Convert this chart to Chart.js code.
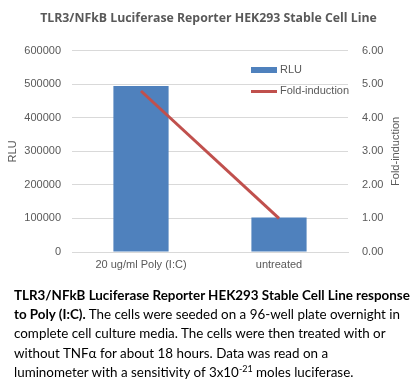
<!DOCTYPE html>
<html><head><meta charset="utf-8">
<script src="https://cdn.jsdelivr.net/npm/chart.js@4/dist/chart.umd.min.js"></script>
<style>
html,body{margin:0;padding:0;background:#fff;}
#wrap{position:relative;width:417px;height:290px;}
#cap{position:absolute;left:14px;top:286px;width:403px;white-space:nowrap;font-family:Lato,"Open Sans",sans-serif;font-size:13.4px;line-height:19.2px;color:#000;}
</style></head><body>
<div id="wrap"><canvas id="c"></canvas></div>
<div id="cap"><b>TLR3/NFkB Luciferase Reporter HEK293 Stable Cell Line response</b><br><b>to Poly (I:C).</b> The cells were seeded on a 96-well plate overnight in<br>complete cell culture media. The cells were then treated with or<br>without TNFα for about 18 hours. Data was read on a<br>luminometer with a sensitivity of 3x10<sup style="font-size:9px;line-height:0">-21</sup> moles luciferase.</div>
<script>
const categories = ["20 ug/ml Poly (I:C)", "untreated"];
const rluValues = [495000, 103000];
const foldValues = [4.8, 1.0];
const seriesNames = ["RLU", "Fold-induction"];
const titleText = "TLR3/NFkB Luciferase Reporter HEK293 Stable Cell Line";
const leftAxisTitle = "RLU";
const rightAxisTitle = "Fold-induction";

const tickFont = { family: '"Liberation Sans", Arial, sans-serif', size: 11 };

const legendPlugin = {
  id: 'inlegend',
  afterDraw(chart) {
    const ctx = chart.ctx;
    const ca = chart.chartArea;
    ctx.save();
    ctx.font = '11px "Liberation Sans", Arial, sans-serif';
    ctx.textBaseline = 'middle';
    const x0 = 251, x1 = 277;
    ctx.fillStyle = '#4F81BD';
    ctx.fillRect(x0, 67, 26, 6);
    ctx.strokeStyle = '#C0504D'; ctx.lineWidth = 3;
    ctx.beginPath(); ctx.moveTo(x0, 91.5); ctx.lineTo(x1, 91.5); ctx.stroke();
    ctx.fillStyle = '#595959';
    ctx.fillText(seriesNames[0], 280, 70);
    ctx.fillText(seriesNames[1], 280, 91);
    ctx.translate(396, (ca.top + ca.bottom) / 2);
    ctx.rotate(-Math.PI / 2);
    ctx.textAlign = 'center';
    ctx.fillText(rightAxisTitle, 0, 0);
    ctx.restore();
  }
};

new Chart(document.getElementById('c'), {
  data: {
    labels: categories,
    datasets: [
      { type: 'line', label: seriesNames[1], data: foldValues, yAxisID: 'y1', borderColor: '#C0504D', borderWidth: 3, pointRadius: 0, order: 0 },
      { type: 'bar', label: seriesNames[0], data: rluValues, yAxisID: 'y', backgroundColor: '#4F81BD', categoryPercentage: 0.4, barPercentage: 1.0, order: 1 }
    ]
  },
  options: {
    responsive: true, maintainAspectRatio: false, animation: false,
    layout: { padding: { left: 0, right: 0, top: 9, bottom: 0 } },
    plugins: {
      legend: { display: false },
      tooltip: { enabled: false },
      title: { display: true, text: titleText, color: '#595959', font: { family: '"Open Sans", sans-serif', size: 12.3, weight: 'bold' }, padding: { top: 2, bottom: 25 } }
    },
    scales: {
      x: { grid: { display: false, drawTicks: false }, border: { color: '#D9D9D9' }, ticks: { color: '#595959', font: tickFont, padding: 6 },
           afterFit: s => { s.height = 38; } },
      y: { position: 'left', min: 0, max: 600000, ticks: { stepSize: 100000, color: '#595959', font: tickFont, padding: 3, callback: v => String(v) },
           grid: { color: '#D9D9D9', tickColor: 'rgba(0,0,0,0)' }, border: { display: false },
           title: { display: true, text: leftAxisTitle, color: '#595959', font: tickFont, padding: { top: 6, bottom: 4 } },
           afterFit: s => { s.width = 72; } },
      y1: { position: 'right', min: 0, max: 6, ticks: { stepSize: 1, color: '#595959', callback: v => v.toFixed(2), font: tickFont, padding: 6 },
            grid: { display: false }, border: { display: false },
            afterFit: s => { s.width = 69; } }
    }
  },
  plugins: [legendPlugin]
});
</script>
</body></html>
